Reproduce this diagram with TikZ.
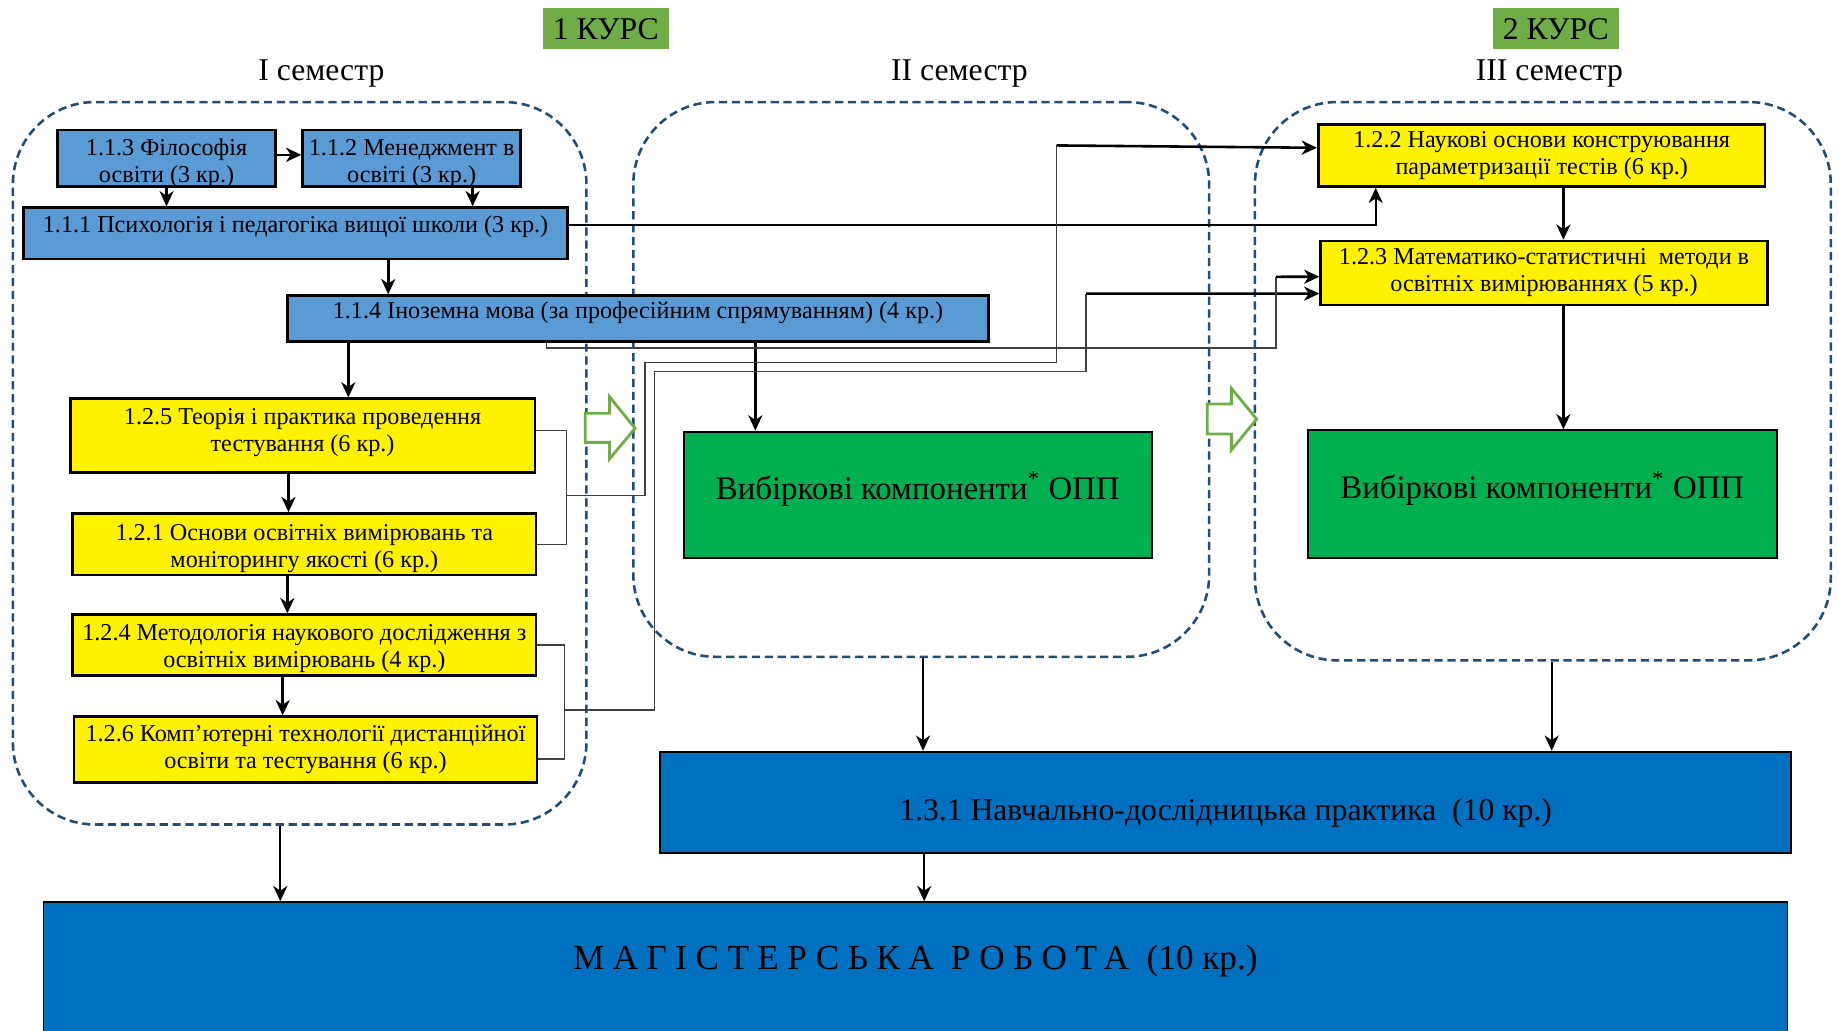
\documentclass[tikz,border=0pt]{standalone}
\usepackage{fontspec}
\setmainfont{Liberation Serif}
\usetikzlibrary{arrows.meta}
\definecolor{kblue}{HTML}{5B9BD5}
\definecolor{dblue}{HTML}{0070C0}
\definecolor{ogreen}{HTML}{00B050}
\definecolor{kgreen}{HTML}{70AD47}
\definecolor{dashblue}{HTML}{1F4E79}
\tikzset{
  box/.style={draw=black, line width=1.1pt, align=center, inner sep=1pt, font=\fontsize{10.3}{11.5}\selectfont},
  bluebox/.style={box, fill=kblue},
  yelbox/.style={box, fill=yellow},
  optbox/.style={box, fill=ogreen, line width=0.9pt, font=\fontsize{14}{16}\selectfont},
  darkbox/.style={box, fill=dblue, line width=0.9pt},
  semframe/.style={draw=dashblue, line width=1.1pt, dash pattern=on 3.5pt off 2pt, rounded corners=35pt},
  kurs/.style={fill=kgreen, inner sep=0pt, font=\fontsize{13.5}{15}\selectfont},
  semlabel/.style={font=\fontsize{13.5}{15}\selectfont},
  arr/.style={draw, line width=1.1pt, -{Stealth[length=6.5pt,width=6pt,inset=2pt]}},
  arrthin/.style={arr, line width=0.8pt},
  wire/.style={draw=black!75, line width=0.6pt},
  hollow/.style={draw=kgreen, line width=1.2pt, fill=white, line join=miter},
}

\begin{document}
\begin{tikzpicture}[x=0.5pt, y=-0.5pt]
\useasboundingbox (0,0) rectangle (1568,879);

% course and semester headings
\node[kurs, minimum width=53.5pt, minimum height=17.5pt] (k1) at (516.5,24.5) {1 КУРС};
\node[kurs, minimum width=53.5pt, minimum height=17.5pt] (k2) at (1326.5,24.5) {2 КУРС};
\node[semlabel] (t1) at (274,63) {I семестр};
\node[semlabel] (t2) at (818,63) {II семестр};
\node[semlabel] (t3) at (1321,63) {III семестр};

% semester frames
\node[semframe, minimum width=244.5pt, minimum height=308pt] (s1) at (255.5,395) {};
\node[semframe, minimum width=245.5pt, minimum height=236.5pt] (s2) at (785.5,323.5) {};
\node[semframe, minimum width=245.5pt, minimum height=238pt] (s3) at (1315.5,325) {};

% transitions between semesters
\draw[hollow] (499,352.4) -- (519.6,352.4) -- (519.6,338.2) -- (541.5,365.2)
  -- (519.6,391.4) -- (519.6,377.2) -- (499,377.2) -- cycle;
\draw[hollow] (1029.4,344.5) -- (1049.9,344.5) -- (1049.9,331) -- (1071.4,357.3)
  -- (1049.9,383.7) -- (1049.9,370) -- (1029.4,370) -- cycle;

% routing points
\coordinate (wa) at (483,422.6);
\coordinate (wb) at (901,124);
\coordinate (wc) at (481.4,605.4);
\coordinate (wd) at (926,250.4);
\coordinate (we) at (1088,236);

% first semester
\node[bluebox, minimum width=93pt, minimum height=24pt, text height=21pt, text depth=0pt] (b113) at (142,135) {1.1.3 Філософія\\освіти (3 кр.)};
\node[bluebox, minimum width=93pt, minimum height=24pt, text height=21pt, text depth=0pt] (b112) at (351,135) {1.1.2 Менеджмент в\\освіті (3 кр.)};
\node[bluebox, minimum width=232pt, minimum height=22pt, text depth=8pt] (b111) at (252,199) {1.1.1 Психологія і педагогіка вищої школи (3 кр.)};
\node[bluebox, minimum width=298.75pt, minimum height=19.5pt, text depth=7pt] (b114) at (544,271.5) {1.1.4 Іноземна мова (за професійним спрямуванням) (4 кр.)};
\node[yelbox, minimum width=198pt, minimum height=31.5pt, text depth=5pt] (y125) at (258,371.5) {1.2.5 Теорія і практика проведення\\тестування (6 кр.)};
\node[yelbox, minimum width=197.5pt, minimum height=26pt, text height=22pt] (y121) at (259.5,464) {1.2.1 Основи освітніх вимірювань та\\моніторингу якості (6 кр.)};
\node[yelbox, minimum width=197.5pt, minimum height=26pt, text height=21.5pt] (y124) at (259.5,550) {1.2.4 Методологія наукового дослідження з\\освітніх вимірювань (4 кр.)};
\node[yelbox, minimum width=197.5pt, minimum height=28pt] (y126) at (260.5,639) {1.2.6 Комп’ютерні технології дистанційної\\освіти та тестування (6 кр.)};

% second and third semester
\node[optbox, minimum width=199.5pt, minimum height=54pt, text depth=8pt] (g2) at (782.5,422) {Вибіркові компоненти\textsuperscript{*} ОПП};
\node[yelbox, minimum width=190.5pt, minimum height=26.5pt] (y122) at (1314.5,132.5) {1.2.2 Наукові основи конструювання\\параметризації тестів (6 кр.)};
\node[yelbox, minimum width=190.5pt, minimum height=27.25pt] (y123) at (1316.5,232.75) {1.2.3 Математико-статистичні\ \ методи в\\освітніх вимірюваннях (5 кр.)};
\node[optbox, minimum width=200pt, minimum height=54.5pt, text depth=8pt] (g3) at (1315,421.5) {Вибіркові компоненти\textsuperscript{*} ОПП};

% practice and thesis
\node[darkbox, minimum width=482pt, minimum height=43pt, text height=18.3pt, font=\fontsize{13.5}{15}\selectfont] (p131) at (1045,684) {1.3.1 Навчально-дослідницька практика\ \ (10 кр.)};
\node[darkbox, line width=0.6pt, minimum width=743.5pt, minimum height=68pt, text depth=21pt, font=\fontsize{15}{17}\selectfont] (mag) at (780.5,837) {{\addfontfeature{LetterSpace=24}МАГІСТЕРСЬКА РОБОТА}\ \ (10 кр.)};

% arrows inside first semester
\draw[arr] ([yshift=1.5pt]b113.east) -- ([yshift=1.5pt]b112.west);
\draw[arr] (b113.south) -- (b113.south |- b111.north);
\draw[arr] ([xshift=26pt]b112.south) -- ([xshift=26pt]b112.south |- b111.north);
\draw[arr] ([xshift=39.5pt]b111.south) -- ([xshift=39.5pt]b111.south |- b114.north);
\draw[arr] ([xshift=19.5pt]y125.north |- b114.south) -- ([xshift=19.5pt]y125.north);
\draw[arr] ([xshift=-6pt]y125.south) -- ([xshift=-6pt]y125.south |- y121.north);
\draw[arr] ([xshift=-7.25pt]y121.south) -- ([xshift=-7.25pt]y121.south |- y124.north);
\draw[arr] ([xshift=-9.25pt]y124.south) -- ([xshift=-9.25pt]y124.south |- y126.north);

% links to later semesters
\draw[arr] ([xshift=-69.25pt]g2.north |- b114.south) -- ([xshift=-69.25pt]g2.north);
\draw[arrthin] ([yshift=3.5pt]b111.east) -| ([xshift=-70.75pt]y122.south);
\draw[wire] ([yshift=2.25pt]y125.east) -| (wa) |- (y121.east);
\draw[wire] (wa) -- ++(67,0) -- ++(0,-113.6) -| (wb);
\draw[arr] (wb) -- ([yshift=3.25pt]y122.west);
\draw[wire] (y124.east) -| (wc) |- ([yshift=-4pt]y126.east);
\draw[wire] (wc) -- ++(76.6,0) -- ++(0,-288.9) -| (wd);
\draw[arr] (wd) -- ([yshift=-8.8pt]y123.west);
\draw[wire] ([xshift=-39pt]b114.south) -- ++(0,4.6) -| (we);
\draw[arr] (we) -- ([yshift=-1.6pt]y123.west);

% third semester
\draw[arr] ([xshift=9.25pt]y122.south) -- ([xshift=9.25pt]y122.south |- y123.north);
\draw[arr] ([xshift=8.25pt]y123.south) -- ([xshift=8.25pt]y123.south |- g3.north);

% towards practice and thesis
\draw[arrthin] ([xshift=0.75pt]s2.south) -- ([xshift=0.75pt]s2.south |- p131.north);
\draw[arrthin] ([xshift=3.75pt]s3.south) -- ([xshift=3.75pt]s3.south |- p131.north);
\draw[arrthin] ([xshift=-128.5pt]p131.south) -- ([xshift=-128.5pt]p131.south |- mag.north);
\draw[arrthin] ([xshift=-8.25pt]s1.south) -- ([xshift=-8.25pt]s1.south |- mag.north);
\end{tikzpicture}
\end{document}
